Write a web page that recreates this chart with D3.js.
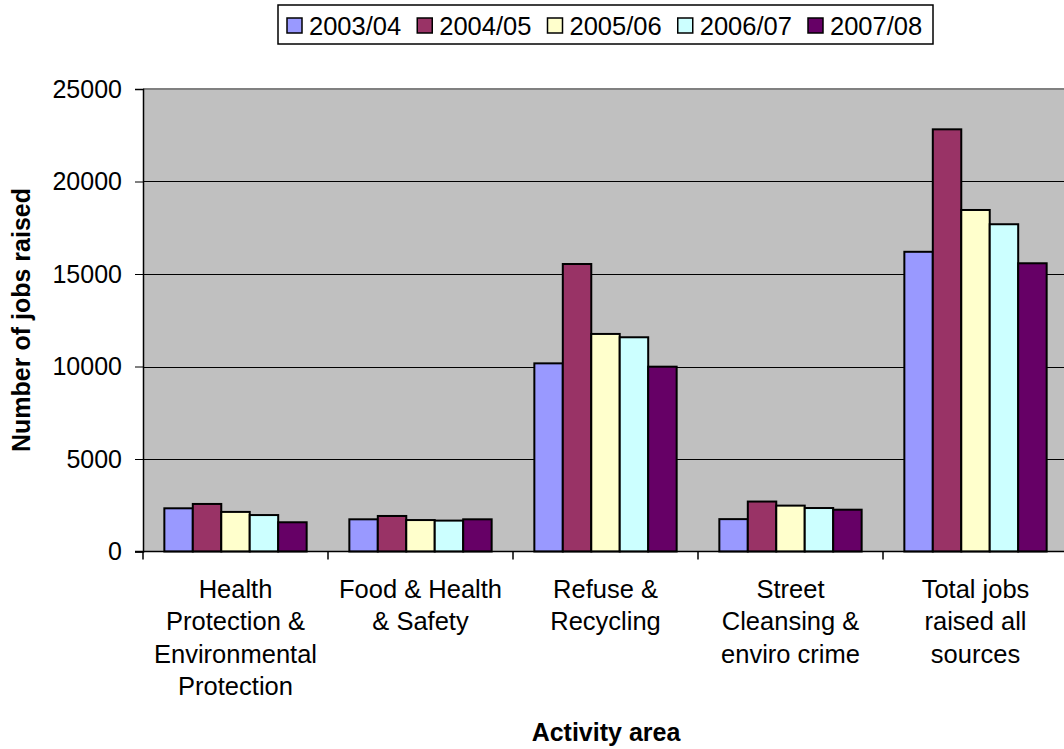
<!DOCTYPE html>
<html>
<head>
<meta charset="utf-8">
<script src="https://cdn.jsdelivr.net/npm/d3@7"></script>
<style>
  html, body { margin: 0; padding: 0; background: #fff; }
  svg { display: block; font-family: "Liberation Sans", Arial, sans-serif; }
</style>
</head>
<body>
<svg id="chart" width="1064" height="749"></svg>
<script>
// Activity areas (x categories), each label split into its display lines
const categories = [
  "Health Protection & Environmental Protection",
  "Food & Health & Safety",
  "Refuse & Recycling",
  "Street Cleansing & enviro crime",
  "Total jobs raised all sources"
];
const categoryLines = [
  ["Health", "Protection &", "Environmental", "Protection"],
  ["Food & Health", "& Safety"],
  ["Refuse &", "Recycling"],
  ["Street", "Cleansing &", "enviro crime"],
  ["Total jobs", "raised all", "sources"]
];

// Financial years (series)
const years = ["2003/04", "2004/05", "2005/06", "2006/07", "2007/08"];

// Number of jobs raised per year, in category order
const jobs2003 = [2335, 1740, 10170, 1750, 16200];
const jobs2004 = [2570, 1920, 15540, 2700, 22820];
const jobs2005 = [2140, 1700, 11760, 2480, 18460];
const jobs2006 = [1970, 1670, 11580, 2350, 17690];
const jobs2007 = [1580, 1740, 9990, 2260, 15580];
const seriesValues = [jobs2003, jobs2004, jobs2005, jobs2006, jobs2007];

const yTicks = [0, 5000, 10000, 15000, 20000, 25000];

const colors = ["#9999FF", "#993366", "#FFFFCC", "#CCFFFF", "#660066"];

const svg = d3.select("#chart");

const plot = { left: 143, right: 1068, top: 89, bottom: 551.5 };

const x0 = d3.scaleBand()
  .domain(categories)
  .range([plot.left, plot.right])
  .paddingInner(0).paddingOuter(0);

const x1 = d3.scaleBand()
  .domain(years)
  .range([0, x0.bandwidth()])
  .paddingInner(0).paddingOuter(0.75);

const y = d3.scaleLinear()
  .domain([0, 25000])
  .range([plot.bottom, plot.top]);

const color = d3.scaleOrdinal().domain(years).range(colors);

// Plot area background
svg.append("rect")
  .attr("x", plot.left).attr("y", plot.top)
  .attr("width", plot.right - plot.left)
  .attr("height", plot.bottom - plot.top)
  .attr("fill", "#C0C0C0");

// Horizontal gridlines
svg.append("g")
  .selectAll("line")
  .data(yTicks.filter(t => t > 0 && t < 25000))
  .join("line")
  .attr("x1", plot.left).attr("x2", plot.right)
  .attr("y1", d => Math.round(y(d)) + 0.5).attr("y2", d => Math.round(y(d)) + 0.5)
  .attr("stroke", "#000").attr("stroke-width", 1);

// Top border of the plot area
svg.append("line")
  .attr("x1", plot.left).attr("x2", plot.right)
  .attr("y1", plot.top).attr("y2", plot.top)
  .attr("stroke", "#808080").attr("stroke-width", 2);

// Bars
const rows = categories.map((c, i) => ({ cat: c, vals: years.map((yr, j) => ({ yr, v: seriesValues[j][i] })) }));

svg.append("g")
  .selectAll("g")
  .data(rows)
  .join("g")
  .attr("transform", d => `translate(${x0(d.cat)},0)`)
  .selectAll("rect")
  .data(d => d.vals)
  .join("rect")
  .attr("x", d => x1(d.yr))
  .attr("y", d => y(d.v))
  .attr("width", x1.bandwidth())
  .attr("height", d => y(0) - y(d.v))
  .attr("fill", d => color(d.yr))
  .attr("stroke", "#000")
  .attr("stroke-width", 2);

// Y axis
const yAxis = d3.axisLeft(y)
  .tickValues(yTicks)
  .tickSize(8)
  .tickPadding(13)
  .tickFormat(d3.format("d"));

const gy = svg.append("g")
  .attr("transform", `translate(${plot.left},0)`)
  .call(yAxis);
gy.select(".domain").attr("stroke", "#000").attr("stroke-width", 1.5);
gy.selectAll(".tick line").attr("stroke", "#000");
gy.selectAll(".tick text")
  .attr("font-size", 25)
  .attr("font-family", "'Liberation Sans', Arial, sans-serif")
  .attr("fill", "#000");

// X axis line and category boundary ticks
const boundaries = categories.map(c => x0(c)).concat([plot.right]);
svg.append("line")
  .attr("x1", plot.left - 8).attr("x2", plot.right)
  .attr("y1", plot.bottom).attr("y2", plot.bottom)
  .attr("stroke", "#000").attr("stroke-width", 1.5);
svg.append("g")
  .selectAll("line")
  .data(boundaries)
  .join("line")
  .attr("x1", d => d).attr("x2", d => d)
  .attr("y1", plot.bottom).attr("y2", plot.bottom + 8)
  .attr("stroke", "#000").attr("stroke-width", 1.5);

// Category labels
const catLabels = svg.append("g")
  .selectAll("text")
  .data(categories)
  .join("text")
  .attr("text-anchor", "middle")
  .attr("font-size", 25.5)
  .attr("fill", "#000");
catLabels.each(function(c, i) {
  const cx = x0(c) + x0.bandwidth() / 2;
  d3.select(this).selectAll("tspan")
    .data(categoryLines[i])
    .join("tspan")
    .attr("x", cx)
    .attr("y", (d, k) => 598 + k * 32.3)
    .text(d => d);
});

// Axis titles
svg.append("text")
  .attr("x", 606).attr("y", 741)
  .attr("text-anchor", "middle")
  .attr("font-size", 25).attr("font-weight", "bold")
  .text("Activity area");

svg.append("text")
  .attr("transform", "translate(30,320) rotate(-90)")
  .attr("text-anchor", "middle")
  .attr("font-size", 25).attr("font-weight", "bold")
  .text("Number of jobs raised");

// Legend
const legend = svg.append("g");
legend.append("rect")
  .attr("x", 278).attr("y", 5)
  .attr("width", 655).attr("height", 39)
  .attr("fill", "#fff")
  .attr("stroke", "#000").attr("stroke-width", 1.5);

const legendItems = legend.selectAll("g.item")
  .data(years)
  .join("g")
  .attr("class", "item")
  .attr("transform", (d, i) => `translate(${286 + i * 130.25},0)`);
legendItems.append("rect")
  .attr("x", 1).attr("y", 18)
  .attr("width", 15).attr("height", 15)
  .attr("fill", d => color(d))
  .attr("stroke", "#000").attr("stroke-width", 1.5);
legendItems.append("text")
  .attr("x", 23).attr("y", 34.5)
  .attr("font-size", 25.5)
  .attr("fill", "#000")
  .text(d => d);
</script>
</body>
</html>
